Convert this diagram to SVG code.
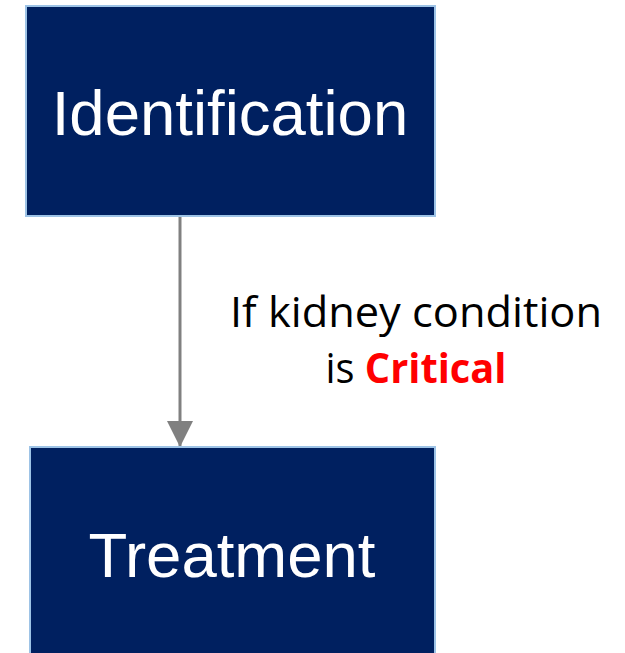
<svg xmlns="http://www.w3.org/2000/svg" width="625" height="653" viewBox="0 0 625 653">
<defs>
<style>
.box{fill:#002060;stroke:#9DC3E6;stroke-width:2}
.nt{fill:#ffffff;font-family:"Liberation Sans",Arial,sans-serif;font-size:63.5px;text-anchor:middle}
.lbl{fill:#000000;font-family:"Open Sans","Noto Sans",sans-serif;font-size:42px;text-anchor:middle}
.conn{stroke:#808080;stroke-width:3;fill:none}
</style>
<marker id="arr" markerUnits="userSpaceOnUse" markerWidth="26" markerHeight="26" refX="26" refY="13" orient="auto" viewBox="0 0 26 26">
<path d="M0,0 L26,13 L0,26 Z" fill="#808080"/>
</marker>
</defs>
<rect width="625" height="653" fill="#ffffff"/>
<g id="connectors">
<line class="conn" x1="180" y1="216" x2="180" y2="447" marker-end="url(#arr)"/>
<text class="lbl" x="416" y="327" textLength="372" lengthAdjust="spacingAndGlyphs">If kidney condition</text>
<text class="lbl" x="416" y="383" textLength="181" lengthAdjust="spacingAndGlyphs">is <tspan fill="#FF0000" font-weight="bold">Critical</tspan></text>
</g>
<g id="identification">
<rect class="box" x="26" y="6" width="409" height="210"/>
<text class="nt" x="230" y="135">Identification</text>
</g>
<g id="treatment">
<rect class="box" x="30" y="447" width="405" height="220"/>
<text class="nt" x="232" y="577">Treatment</text>
</g>
</svg>
